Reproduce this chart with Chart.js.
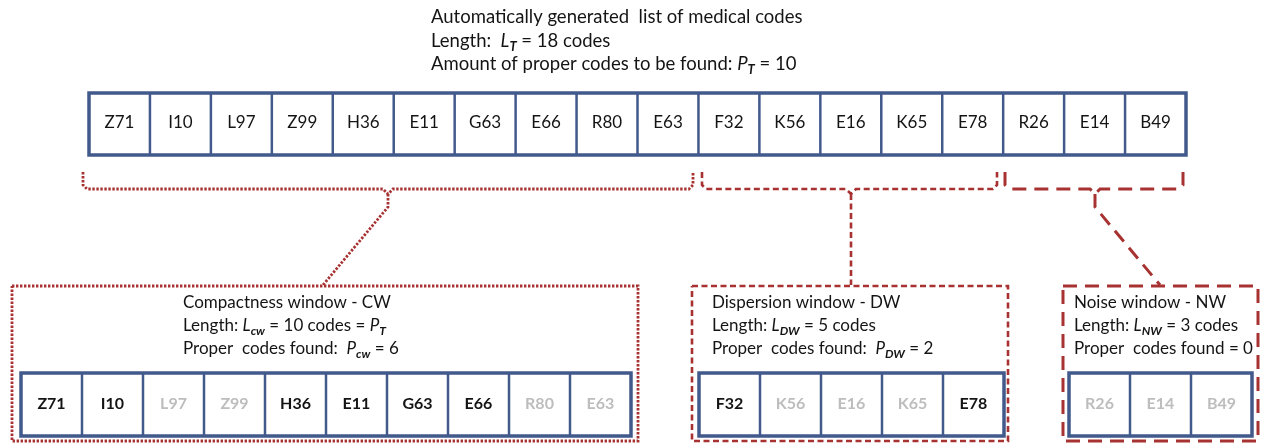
<!DOCTYPE html>
<html>
<head>
<meta charset="utf-8">
<script src="https://cdn.jsdelivr.net/npm/chart.js@4.4.0/dist/chart.umd.min.js"></script>
<style>
  html, body { margin: 0; padding: 0; background: #fff; }
  #wrap { width: 1265px; height: 443px; position: relative; }
</style>
</head>
<body>
<div id="wrap"><canvas id="diagram"></canvas></div>
<script>
// codes of the generated list, in order
const topCodes = ["Z71", "I10", "L97", "Z99", "H36", "E11", "G63", "E66", "R80", "E63",
                  "F32", "K56", "E16", "K65", "E78", "R26", "E14", "B49"];
const totalLength = 18;
const totalProper = 10;

// windows cut from the list
const windowNames = ["Compactness window - CW", "Dispersion window - DW", "Noise window - NW"];
const windowTags = ["cw", "DW", "NW"];
const windowSizes = [10, 5, 3];
// 1 = proper code found (dark), 0 = not proper (pale)
const cwFound = [1, 1, 0, 0, 1, 1, 1, 1, 0, 0];
const dwFound = [1, 0, 0, 0, 1];
const nwFound = [0, 0, 0];

const FONT = "Lato, 'Open Sans', sans-serif";
const RED = "#A83232";
const BLUE = "#41598B";
const INK = "#141414";
const PALE = "#BDBDBD";

// layout (in scale units, 1 unit = 1 px)
const topRow = { x0: 89, x1: 1186, y0: 93, y1: 155 };
const winLayout = [
  { box: [12, 286, 638, 441], cells: [21, 373, 631, 436], textX: 183, dash: [2.4, 1.6], width: 2.8,
    bracket: [83, 693, 388], stem: [[388, 207], [323, 285]] },
  { box: [692, 286, 1008, 441], cells: [699, 373, 1004, 436], textX: 712, dash: [6, 3.5], width: 2.6,
    bracket: [702, 997, 851], stem: [[851, 285]] },
  { box: [1063, 286, 1258, 441], cells: [1069, 373, 1252, 436], textX: 1074, dash: [14, 8], width: 3,
    bracket: [1005, 1183, 1095], stem: [[1095, 207], [1160, 285]] }
];

function bracketPoints(l, r, c) {
  const yTop = 172, yH = 189;
  return [
    { x: l, y: yTop }, { x: l, y: yH - 4 }, { x: l + 4, y: yH },
    { x: c - 5, y: yH }, { x: c, y: yH + 5 }, { x: c + 5, y: yH },
    { x: r - 4, y: yH }, { x: r, y: yH - 4 }, { x: r, y: yTop }
  ];
}

function boxPoints(b) {
  return [{ x: b[0], y: b[1] }, { x: b[2], y: b[1] }, { x: b[2], y: b[3] }, { x: b[0], y: b[3] }, { x: b[0], y: b[1] }];
}

const datasets = [];
winLayout.forEach(function (w) {
  const style = {
    showLine: true, pointRadius: 0, fill: false, tension: 0,
    borderColor: RED, borderWidth: w.width, borderDash: w.dash,
    borderCapStyle: "butt", borderJoinStyle: "miter"
  };
  const c = w.bracket[2];
  datasets.push(Object.assign({ data: bracketPoints(w.bracket[0], w.bracket[1], c) }, style));
  datasets.push(Object.assign({ data: [{ x: c, y: 194 }].concat(w.stem.map(p => ({ x: p[0], y: p[1] }))) }, style));
  datasets.push(Object.assign({ data: boxPoints(w.box) }, style));
});

// rich text: segments {t, it, sub}
function drawRich(ctx, x, y, segs, size) {
  ctx.textBaseline = "middle";
  ctx.textAlign = "left";
  ctx.fillStyle = INK;
  segs.forEach(function (s) {
    const fs = s.sub ? Math.round(size * 0.68) : size;
    const style = (s.it || s.sub) ? "italic " : "";
    const weight = s.sub ? "bold " : "";
    ctx.font = style + weight + fs + "px " + FONT;
    ctx.fillText(s.t, x, y + (s.sub ? size * 0.3 : 0));
    x += ctx.measureText(s.t).width;
  });
}

function drawCells(ctx, sx, sy, codes, flags, rect, bold) {
  const x0 = sx(rect[0]), y0 = sy(rect[1]), x1 = sx(rect[2]), y1 = sy(rect[3]);
  const w = (x1 - x0) / codes.length;
  ctx.fillStyle = "#fff";
  ctx.fillRect(x0, y0, x1 - x0, y1 - y0);
  ctx.strokeStyle = BLUE;
  ctx.lineWidth = 2.5;
  for (let i = 1; i < codes.length; i++) {
    ctx.beginPath();
    ctx.moveTo(x0 + i * w, y0);
    ctx.lineTo(x0 + i * w, y1);
    ctx.stroke();
  }
  ctx.lineWidth = 3.5;
  ctx.strokeRect(x0, y0, x1 - x0, y1 - y0);
  ctx.textAlign = "center";
  ctx.textBaseline = "middle";
  ctx.font = (bold ? "bold 16px " : "17px ") + FONT;
  codes.forEach(function (code, i) {
    ctx.fillStyle = (flags && !flags[i]) ? PALE : INK;
    ctx.fillText(code, x0 + (i + 0.5) * w, (y0 + y1) / 2 - 1);
  });
}

const drawPlugin = {
  id: "drawPlugin",
  afterDatasetsDraw(chart) {
    const ctx = chart.ctx;
    const sx = v => chart.scales.x.getPixelForValue(v);
    const sy = v => chart.scales.y.getPixelForValue(v);
    ctx.save();

    // title
    const size = 18.5;
    drawRich(ctx, sx(431), sy(17), [{ t: "Automatically generated  list of medical codes" }], size);
    drawRich(ctx, sx(431), sy(41), [{ t: "Length:  " }, { t: "L", it: 1 }, { t: "T", sub: 1 }, { t: " = " + totalLength + " codes" }], size);
    drawRich(ctx, sx(431), sy(64), [{ t: "Amount of proper codes to be found: " }, { t: "P", it: 1 }, { t: "T", sub: 1 }, { t: " = " + totalProper }], size);

    drawCells(ctx, sx, sy, topCodes, null, [topRow.x0, topRow.y0, topRow.x1, topRow.y1], false);

    const flags = [cwFound, dwFound, nwFound];
    const wsize = 17;
    let start = 0;
    winLayout.forEach(function (w, k) {
      const codes = topCodes.slice(start, start + windowSizes[k]);
      start += windowSizes[k];
      const found = flags[k].reduce((a, b) => a + b, 0);
      const tx = sx(w.textX);
      drawRich(ctx, tx, sy(303), [{ t: windowNames[k] }], wsize);
      const lenLine = [{ t: "Length: " }, { t: "L", it: 1 }, { t: windowTags[k], sub: 1 }, { t: " = " + windowSizes[k] + " codes" }];
      if (k === 0) lenLine.push({ t: " = " }, { t: "P", it: 1 }, { t: "T", sub: 1 });
      drawRich(ctx, tx, sy(326), lenLine, wsize);
      const foundLine = k === 2
        ? [{ t: "Proper  codes found = " + found }]
        : [{ t: "Proper  codes found:  " }, { t: "P", it: 1 }, { t: windowTags[k], sub: 1 }, { t: " = " + found }];
      drawRich(ctx, tx, sy(349), foundLine, wsize);
      drawCells(ctx, sx, sy, codes, flags[k], w.cells, true);
    });

    ctx.restore();
  }
};

new Chart(document.getElementById("diagram").getContext("2d"), {
  type: "scatter",
  data: { datasets: datasets },
  options: {
    responsive: true,
    maintainAspectRatio: false,
    animation: false,
    layout: { padding: 0 },
    plugins: { legend: { display: false }, tooltip: { enabled: false } },
    scales: {
      x: { type: "linear", min: 0, max: 1265, display: false },
      y: { type: "linear", min: 0, max: 443, reverse: true, display: false }
    }
  },
  plugins: [drawPlugin]
});
</script>
</body>
</html>
